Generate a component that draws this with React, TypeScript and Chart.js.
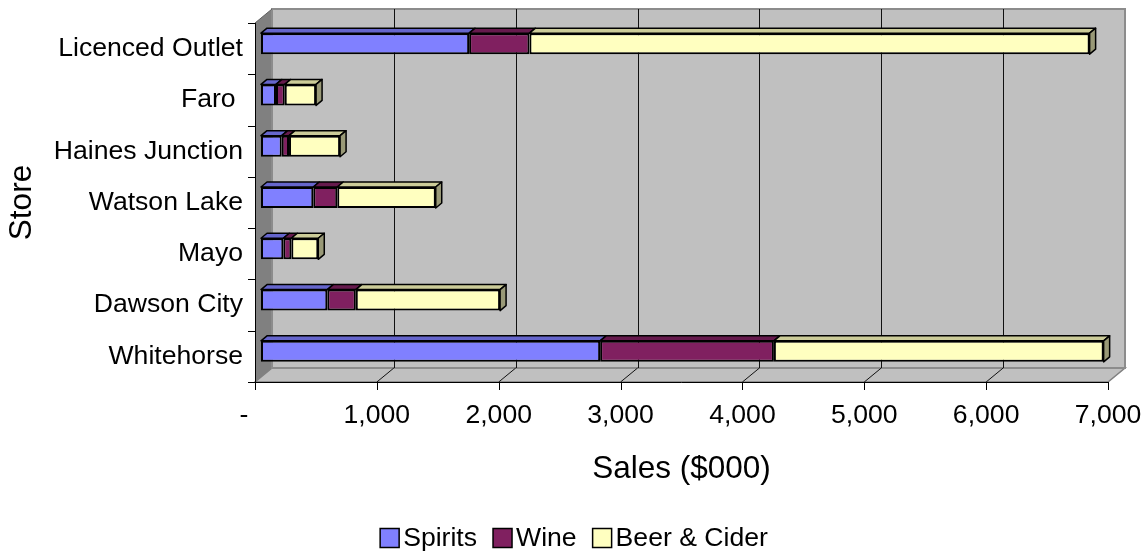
import React, { useEffect, useRef } from 'react';
import { Chart, registerables } from 'chart.js';

Chart.register(...registerables);

// ---- data (top-to-bottom order as shown) ----
const stores = ['Licenced Outlet', 'Faro ', 'Haines Junction', 'Watson Lake', 'Mayo', 'Dawson City', 'Whitehorse'];
const spirits = [1708, 123, 170, 429, 183, 544, 2783];
const wine = [495, 72, 60, 197, 66, 234, 1426];
const beerCider = [4597, 257, 419, 808, 221, 1184, 2706];
const seriesNames = ['Spirits', 'Wine', 'Beer & Cider'];
const xTickValues = [0, 1000, 2000, 3000, 4000, 5000, 6000, 7000];
const xTitle = 'Sales ($000)';
const yTitle = 'Store';

// ---- styling ----
const FONT = "'Liberation Sans', Arial, Helvetica, sans-serif";
const LABEL_SIZE = 26.6;
const TITLE_SIZE = 31.5;
const frontColors = ['#8080FF', '#802060', '#FFFFC0'];
const topColors = ['#6666CC', '#661A4D', '#CCCC99'];
const sideColors = ['#5C5CB8', '#55143F', '#999977'];
const FRONT = { dx: -6, dy: 5 };
const BACK = { dx: 11, dy: -9 };
const BAR_D = { dx: 6, dy: -5 };

function poly(ctx: CanvasRenderingContext2D, pts: number[][]) {
  ctx.beginPath();
  ctx.moveTo(pts[0][0], pts[0][1]);
  for (let i = 1; i < pts.length; i++) ctx.lineTo(pts[i][0], pts[i][1]);
  ctx.closePath();
}

const threeD = {
  id: 'threeD',
  beforeDatasetsDraw(chart: any) {
    const { ctx, chartArea: ca, scales } = chart;
    const xs = scales.x;
    const ys = scales.y;
    const fl = ca.left + FRONT.dx, fr = ca.right + FRONT.dx, ft = ca.top + FRONT.dy, fb = ca.bottom + FRONT.dy;
    const bl = ca.left + BACK.dx, br = ca.right + BACK.dx, bt = ca.top + BACK.dy, bb = ca.bottom + BACK.dy;
    ctx.save();
    // back wall
    ctx.fillStyle = '#C0C0C0';
    ctx.fillRect(bl, bt, br - bl, bb - bt);
    // floor
    ctx.fillStyle = '#C0C0C0';
    poly(ctx, [[fl, fb], [bl, bb], [br, bb], [fr, fb]]);
    ctx.fill();
    ctx.strokeStyle = '#808080';
    ctx.lineWidth = 1.5;
    ctx.stroke();
    // side wall
    ctx.fillStyle = '#808080';
    poly(ctx, [[fl, ft], [bl, bt], [bl, bb], [fl, fb]]);
    ctx.fill();
    // back wall border
    ctx.strokeStyle = '#8C8C8C';
    ctx.lineWidth = 2;
    ctx.strokeRect(bl, bt, br - bl, bb - bt);
    // gridlines on wall + floor
    ctx.strokeStyle = '#111111';
    ctx.lineWidth = 1;
    xTickValues.forEach((v) => {
      const px = xs.getPixelForValue(v);
      if (v > 0 && v < 7000) {
        ctx.beginPath();
        ctx.moveTo(Math.round(px + BACK.dx) + 0.5, bt);
        ctx.lineTo(Math.round(px + BACK.dx) + 0.5, bb);
        ctx.stroke();
        ctx.beginPath();
        ctx.moveTo(px + BACK.dx, bb);
        ctx.lineTo(px + FRONT.dx, fb);
        ctx.stroke();
      }
    });
    // axes (front plane)
    ctx.strokeStyle = '#000000';
    ctx.lineWidth = 1;
    ctx.beginPath();
    ctx.moveTo(Math.round(fl) + 0.5, ft);
    ctx.lineTo(Math.round(fl) + 0.5, fb + 1);
    ctx.moveTo(fl, Math.round(fb) + 0.5);
    ctx.lineTo(fr, Math.round(fb) + 0.5);
    ctx.stroke();
    // top edge of side wall
    ctx.strokeStyle = '#606060';
    ctx.beginPath();
    ctx.moveTo(fl, ft);
    ctx.lineTo(bl, bt);
    ctx.stroke();
    // x tick marks
    ctx.strokeStyle = '#000000';
    xTickValues.forEach((v) => {
      const px = Math.round(xs.getPixelForValue(v) + FRONT.dx) + 0.5;
      ctx.beginPath();
      ctx.moveTo(px, fb);
      ctx.lineTo(px, fb + 8);
      ctx.stroke();
    });
    // y tick marks at category boundaries
    for (let k = 0; k <= stores.length; k++) {
      const py = Math.round(ys.getPixelForValue(k - 0.5) + FRONT.dy) + 0.5;
      ctx.beginPath();
      ctx.moveTo(fl - 7, py);
      ctx.lineTo(fl, py);
      ctx.stroke();
    }
    ctx.restore();
  },
  afterDatasetsDraw(chart: any) {
    const { ctx } = chart;
    const n = chart.data.datasets.length;
    ctx.save();
    ctx.lineJoin = 'round';
    for (let i = 0; i < n; i++) {
      const meta = chart.getDatasetMeta(i);
      meta.data.forEach((el: any) => {
        const { x, y, base, height } = el.getProps(['x', 'y', 'base', 'height'], true);
        const left = Math.min(base, x);
        const right = Math.max(base, x);
        const top = y - height / 2;
        const bottom = y + height / 2;
        ctx.fillStyle = topColors[i];
        poly(ctx, [[left, top], [left + BAR_D.dx, top + BAR_D.dy], [right + BAR_D.dx, top + BAR_D.dy], [right, top]]);
        ctx.fill();
        ctx.strokeStyle = '#000000';
        ctx.lineWidth = 1.5;
        ctx.stroke();
        if (i === n - 1) {
          ctx.fillStyle = sideColors[i];
          poly(ctx, [[right, top], [right + BAR_D.dx, top + BAR_D.dy], [right + BAR_D.dx, bottom + BAR_D.dy], [right, bottom]]);
          ctx.fill();
          ctx.stroke();
        }
      });
    }
    ctx.restore();
  },
  afterDraw(chart: any) {
    const { ctx, chartArea: ca } = chart;
    const fl = ca.left + FRONT.dx, fr = ca.right + FRONT.dx, ft = ca.top + FRONT.dy, fb = ca.bottom + FRONT.dy;
    ctx.save();
    ctx.fillStyle = '#000000';
    // axis titles
    ctx.font = `${TITLE_SIZE}px ${FONT}`;
    ctx.textAlign = 'center';
    ctx.textBaseline = 'middle';
    ctx.fillText(xTitle, (fl + fr) / 2, 469);
    ctx.save();
    ctx.translate(22, (ft + fb) / 2);
    ctx.rotate(-Math.PI / 2);
    ctx.fillText(yTitle, 0, 0);
    ctx.restore();
    // legend
    ctx.font = `${LABEL_SIZE}px ${FONT}`;
    ctx.textAlign = 'left';
    const box = 19, gap = 4, itemGap = 16;
    const widths = chart.data.datasets.map((d: any) => ctx.measureText(d.label).width);
    const total = widths.reduce((a: number, w: number) => a + box + gap + w, 0) + itemGap * (widths.length - 1);
    let lx = chart.width / 2 - total / 2;
    const ly = 538;
    chart.data.datasets.forEach((d: any, i: number) => {
      ctx.fillStyle = d.backgroundColor;
      ctx.fillRect(lx, ly - box / 2, box, box);
      ctx.strokeStyle = '#000000';
      ctx.lineWidth = 1.5;
      ctx.strokeRect(lx, ly - box / 2, box, box);
      ctx.fillStyle = '#000000';
      ctx.fillText(d.label, lx + box + gap, ly + 1);
      lx += box + gap + widths[i] + itemGap;
    });
    ctx.restore();
  },
};

export default function App() {
  const ref = useRef<HTMLCanvasElement | null>(null);
  useEffect(() => {
    if (!ref.current) return;
    const series = [spirits, wine, beerCider];
    const chart = new Chart(ref.current, {
      type: 'bar',
      data: {
        labels: stores,
        datasets: series.map((vals, i) => ({
          label: seriesNames[i],
          data: vals,
          backgroundColor: frontColors[i],
          borderColor: '#000000',
          borderWidth: 2,
          borderSkipped: false,
          barPercentage: 0.41,
          categoryPercentage: 1,
        })),
      },
      options: {
        indexAxis: 'y',
        responsive: false,
        animation: false,
        devicePixelRatio: 1,
        layout: { padding: { top: 18, right: 34, left: 0, bottom: 0 } },
        plugins: { legend: { display: false }, tooltip: { enabled: false }, title: { display: false } },
        scales: {
          x: {
            stacked: true,
            min: 0,
            max: 7000,
            grid: { display: false, drawTicks: false },
            border: { display: false },
            ticks: {
              stepSize: 1000,
              maxRotation: 0,
              autoSkip: false,
              padding: 23,
              labelOffset: -6,
              color: '#000000',
              font: { family: FONT, size: LABEL_SIZE },
              callback: (v: any) => (Number(v) === 0 ? '-   ' : Number(v).toLocaleString('en-US')),
            },
            afterFit: (s: any) => {
              s.height = 175;
              s.paddingLeft = 0;
              s.paddingRight = 0;
            },
          },
          y: {
            stacked: true,
            grid: { display: false, drawTicks: false },
            border: { display: false },
            ticks: {
              padding: 18,
              labelOffset: 5,
              autoSkip: false,
              color: '#000000',
              font: { family: FONT, size: LABEL_SIZE },
            },
            afterFit: (s: any) => {
              s.width = 261;
              s.paddingTop = 0;
              s.paddingBottom = 0;
            },
          },
        },
      },
      plugins: [threeD],
    });
    return () => chart.destroy();
  }, []);
  return (
    <div style={{ position: 'fixed', left: 0, top: 0, width: 1148, height: 552, background: '#FFFFFF' }}>
      <canvas ref={ref} width={1148} height={552} style={{ display: 'block' }} />
    </div>
  );
}
